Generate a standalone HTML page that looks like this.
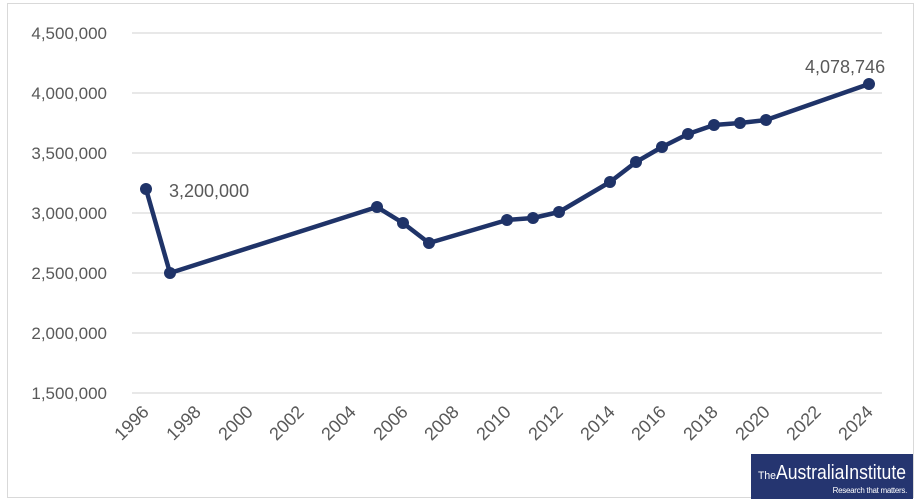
<!DOCTYPE html>
<html><head><meta charset="utf-8"><style>
html,body{margin:0;padding:0;background:#fff;}
svg{display:block;font-family:"Liberation Sans",sans-serif;}
</style></head><body>
<svg width="921" height="504" viewBox="0 0 921 504">
<rect x="7.5" y="3.5" width="906" height="494" fill="#fff" stroke="#d9d9d9"/>
<g stroke="#d9d9d9" stroke-width="1.3">
<line x1="132" x2="882" y1="33" y2="33"/>
<line x1="132" x2="882" y1="93" y2="93"/>
<line x1="132" x2="882" y1="153" y2="153"/>
<line x1="132" x2="882" y1="213" y2="213"/>
<line x1="132" x2="882" y1="273" y2="273"/>
<line x1="132" x2="882" y1="333" y2="333"/>
<line x1="132" x2="882" y1="393" y2="393"/>
</g>
<g fill="#595959" font-size="17" text-anchor="end">
<text x="107" y="39">4,500,000</text>
<text x="107" y="99">4,000,000</text>
<text x="107" y="159">3,500,000</text>
<text x="107" y="219">3,000,000</text>
<text x="107" y="279">2,500,000</text>
<text x="107" y="339">2,000,000</text>
<text x="107" y="399">1,500,000</text>
</g>
<g fill="#595959" font-size="18" text-anchor="end">
<text transform="translate(150,413) rotate(-45)">1996</text>
<text transform="translate(202,413) rotate(-45)">1998</text>
<text transform="translate(254,413) rotate(-45)">2000</text>
<text transform="translate(305,413) rotate(-45)">2002</text>
<text transform="translate(357,413) rotate(-45)">2004</text>
<text transform="translate(409,413) rotate(-45)">2006</text>
<text transform="translate(460,413) rotate(-45)">2008</text>
<text transform="translate(512,413) rotate(-45)">2010</text>
<text transform="translate(564,413) rotate(-45)">2012</text>
<text transform="translate(616,413) rotate(-45)">2014</text>
<text transform="translate(667,413) rotate(-45)">2016</text>
<text transform="translate(719,413) rotate(-45)">2018</text>
<text transform="translate(771,413) rotate(-45)">2020</text>
<text transform="translate(822,413) rotate(-45)">2022</text>
<text transform="translate(874,413) rotate(-45)">2024</text>
</g>
<polyline fill="none" stroke="#1f3368" stroke-width="4.5" stroke-linejoin="round"
points="146,189 170,273 377,207 403,223 429,243 507,220 533,218 559,212 610,182 636,162 662,147 688,134 714,125 740,123 766,120 869,84"/>
<g fill="#1f3368">
<circle cx="146" cy="189" r="6"/><circle cx="170" cy="273" r="6"/><circle cx="377" cy="207" r="6"/>
<circle cx="403" cy="223" r="6"/><circle cx="429" cy="243" r="6"/><circle cx="507" cy="220" r="6"/>
<circle cx="533" cy="218" r="6"/><circle cx="559" cy="212" r="6"/><circle cx="610" cy="182" r="6"/>
<circle cx="636" cy="162" r="6"/><circle cx="662" cy="147" r="6"/><circle cx="688" cy="134" r="6"/>
<circle cx="714" cy="125" r="6"/><circle cx="740" cy="123" r="6"/><circle cx="766" cy="120" r="6"/>
<circle cx="869" cy="84" r="6"/>
</g>
<g fill="#595959" font-size="18">
<text x="169" y="197">3,200,000</text>
<text x="805" y="73">4,078,746</text>
</g>
<rect x="751" y="454" width="162" height="45" fill="#253570"/>
<text x="758" y="479" fill="#fff" font-size="11" textLength="18" lengthAdjust="spacingAndGlyphs">The</text>
<text x="776" y="479" fill="#fff" font-size="20" textLength="130" lengthAdjust="spacingAndGlyphs">AustraliaInstitute</text>
<text x="907" y="493" fill="#fff" font-size="8" text-anchor="end" letter-spacing="-0.3">Research that matters.</text>
</svg>
</body></html>
